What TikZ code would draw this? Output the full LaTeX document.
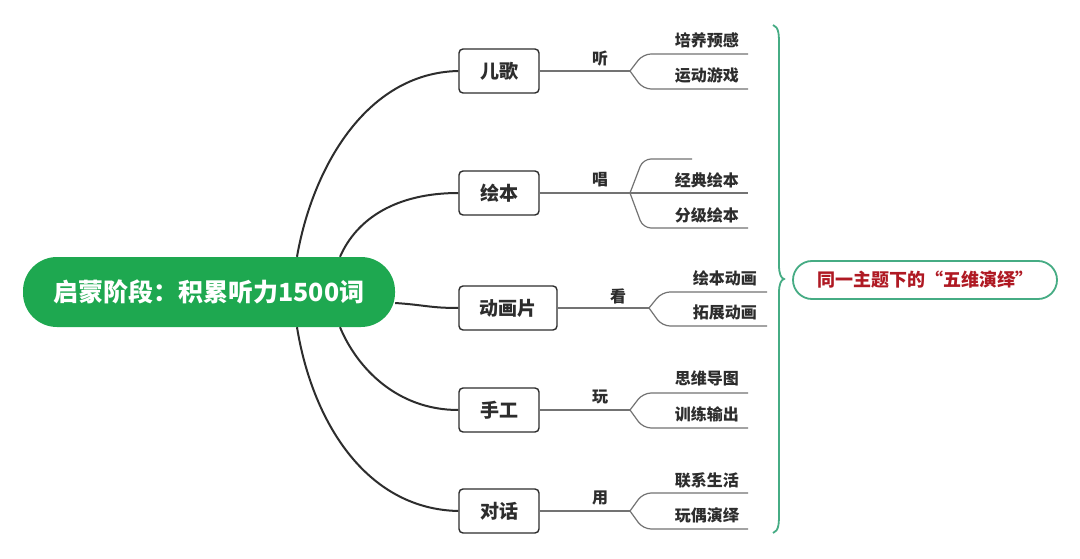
\documentclass[tikz,border=0pt]{standalone}
\usepackage{fontspec}
\setmainfont{Noto Sans CJK SC}
\usetikzlibrary{calc}
\definecolor{rootgreen}{RGB}{30,168,80}
\definecolor{braceteal}{RGB}{70,172,132}
\definecolor{labelred}{RGB}{175,25,35}
\definecolor{inkgray}{RGB}{45,45,45}
\definecolor{twiggray}{RGB}{115,115,115}
\tikzset{
  rootpill/.style={fill=rootgreen, text=white, rounded corners=34pt,
    minimum width=372pt, minimum height=70pt,
    font=\fontsize{25}{30}\selectfont\bfseries},
  topic/.style={draw=inkgray, line width=1.4pt, rounded corners=4pt,
    fill=white, minimum width=80pt, minimum height=44pt, text=inkgray,
    font=\fontsize{19}{23}\selectfont\bfseries},
  trunk/.style={draw=inkgray, line width=2pt},
  twig/.style={draw=twiggray, line width=1.2pt, rounded corners=8pt},
  verb/.style={text=inkgray, font=\fontsize{16}{19}\selectfont\bfseries},
  leaf/.style={text=inkgray, anchor=east, inner sep=0pt,
    font=\fontsize{16}{19}\selectfont\bfseries},
  slogan/.style={draw=braceteal, line width=1.8pt, rounded corners=19pt,
    minimum width=264pt, minimum height=38pt, text=labelred,
    font=\fontsize{18}{21}\selectfont\bfseries}
}
\begin{document}
\begin{tikzpicture}[x=1pt,y=-1pt]
\fill[white] (0,0) rectangle (1080,559);
\useasboundingbox (0,0) rectangle (1080,559);

\node[rootpill] (root) at (209,292) {启蒙阶段：积累听力1500词};

\node[topic] (erge) at (499,71) {儿歌};
\node[topic] (huiben) at (499,193) {绘本};
\node[topic, minimum width=98pt] (donghua) at (508,308) {动画片};
\node[topic] (shougong) at (499,410) {手工};
\node[topic] (duihua) at (499,511) {对话};

% root to topics
\draw[trunk] ([xshift=88pt]root.north) .. controls (312,170) and (365,73) .. (erge.west);
\draw[trunk] ([xshift=131pt]root.north) .. controls (357,218) and (397,193) .. (huiben.west);
\draw[trunk] ([yshift=-11pt]root.east) .. controls (425,305) and (430,308) .. (donghua.west);
\draw[trunk] ([xshift=131pt]root.south) .. controls (357,368) and (397,410) .. (shougong.west);
\draw[trunk] ([xshift=88pt]root.south) .. controls (312,420) and (365,509) .. (duihua.west);

% 儿歌
\coordinate (F1) at (630,71);
\draw[twig] (erge.east) -- (F1);
\node[verb] (v1) at (600,59) {听};
\draw[twig] (F1) -- (643,54) -- (748,54) coordinate (A1);
\draw[twig] (F1) -- (643,89) -- (748,89) coordinate (A2);
\node[leaf] (a1) at ($(A1)+(-9,-14)$) {培养预感};
\node[leaf] (a2) at ($(A2)+(-9,-14)$) {运动游戏};

% 绘本
\coordinate (F2) at (630,193);
\draw[twig] (huiben.east) -- (F2) -- (748,193) coordinate (B1);
\node[verb] (v2) at (600,180) {唱};
\draw[twig] (F2) -- (643,159) -- (692,159) coordinate (B0);
\draw[twig] (F2) -- (643,228) -- (748,228) coordinate (B2);
\node[leaf] (b1) at ($(B1)+(-9,-13)$) {经典绘本};
\node[leaf] (b2) at ($(B2)+(-9,-13)$) {分级绘本};

% 动画片
\coordinate (F3) at (649,308);
\draw[twig] (donghua.east) -- (F3);
\node[verb] (v3) at (618,296) {看};
\draw[twig] (F3) -- (662,292) -- (767,292) coordinate (C1);
\draw[twig] (F3) -- (662,326) -- (767,326) coordinate (C2);
\node[leaf] (c1) at ($(C1)+(-10,-14)$) {绘本动画};
\node[leaf] (c2) at ($(C2)+(-10,-14)$) {拓展动画};

% 手工
\coordinate (F4) at (630,410);
\draw[twig] (shougong.east) -- (F4);
\node[verb] (v4) at (600,397) {玩};
\draw[twig] (F4) -- (643,393) -- (748,393) coordinate (D1);
\draw[twig] (F4) -- (643,428) -- (748,428) coordinate (D2);
\node[leaf] (d1) at ($(D1)+(-9,-15)$) {思维导图};
\node[leaf] (d2) at ($(D2)+(-9,-14)$) {训练输出};

% 对话
\coordinate (F5) at (630,511);
\draw[twig] (duihua.east) -- (F5);
\node[verb] (v5) at (600,498) {用};
\draw[twig] (F5) -- (643,493) -- (748,493) coordinate (E1);
\draw[twig] (F5) -- (643,529) -- (748,529) coordinate (E2);
\node[leaf] (e1) at ($(E1)+(-9,-13)$) {联系生活};
\node[leaf] (e2) at ($(E2)+(-9,-14)$) {玩偶演绎};

% brace and slogan
\coordinate (T) at (784,279);
\draw[braceteal, line width=1.8pt]
  (773,25) .. controls (779,27) and (779,35) .. (779,45) -- (779,265)
  .. controls (779,274) and (781,278) .. (T)
  .. controls (781,280) and (779,284) .. (779,293) -- (779,513)
  .. controls (779,523) and (779,531) .. (773,533);
\node[slogan] (label) at (925,280) {同一主题下的“五维演绎”};
\end{tikzpicture}
\end{document}
